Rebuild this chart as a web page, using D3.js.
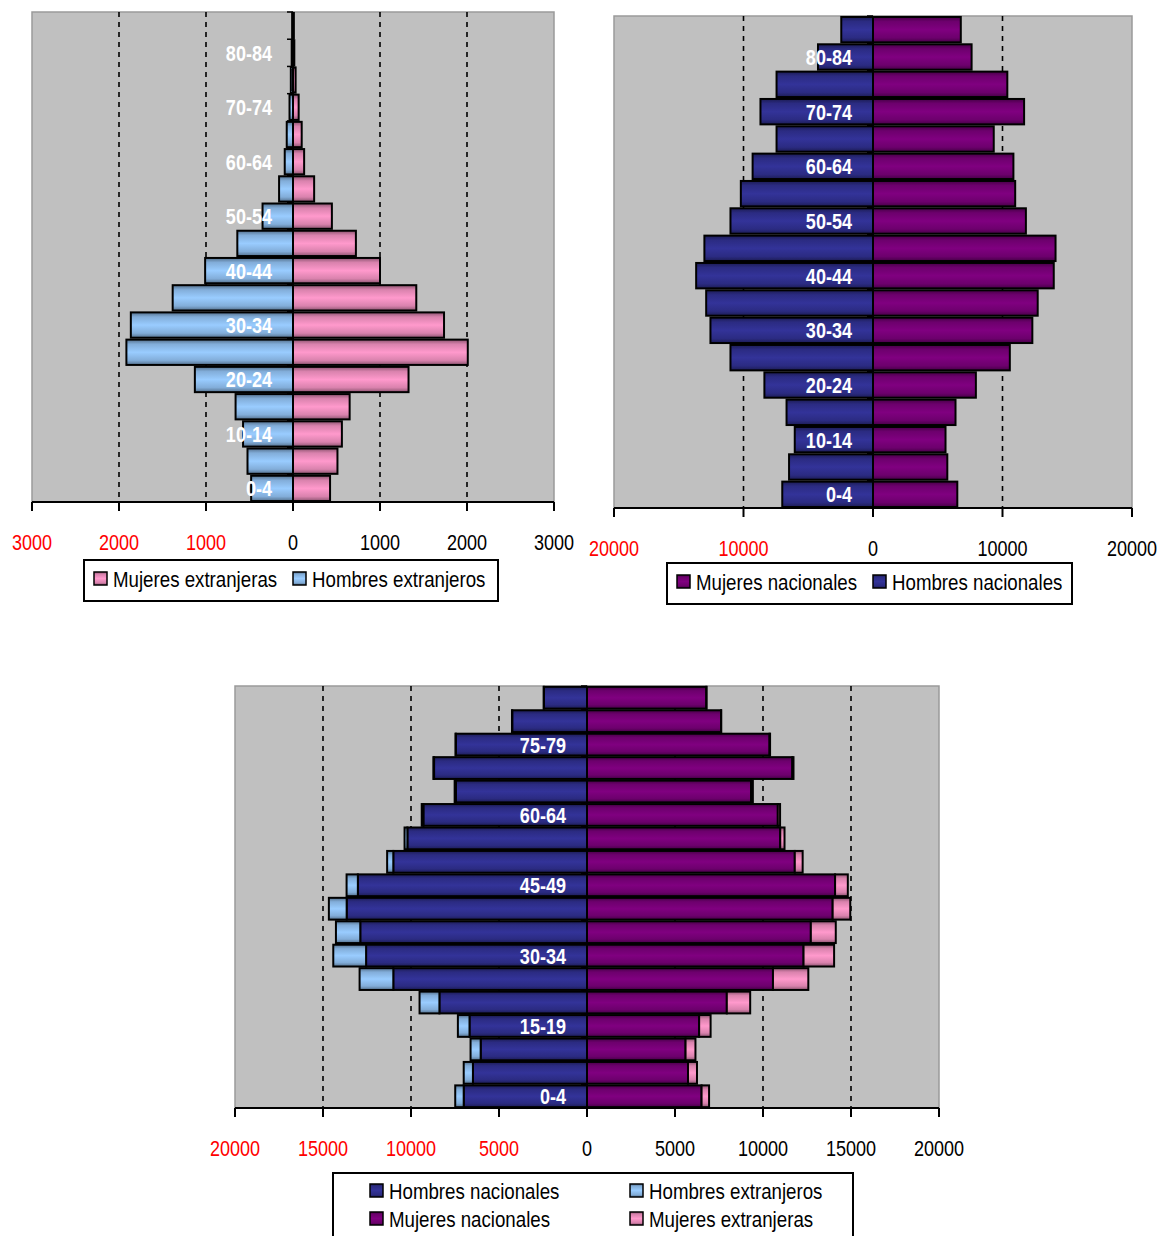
<!DOCTYPE html>
<html>
<head>
<meta charset="utf-8">
<script src="https://cdn.jsdelivr.net/npm/d3@7"></script>
<style>
  html, body { margin: 0; padding: 0; background: #fff; }
  svg { display: block; }
  text { font-family: "Liberation Sans", Arial, sans-serif; }
</style>
</head>
<body>
<svg id="chart" width="1159" height="1236"></svg>
<script>
// ---------------- DATA ----------------
const ages = ["0-4","5-9","10-14","15-19","20-24","25-29","30-34","35-39","40-44","45-49","50-54","55-59","60-64","65-69","70-74","75-79","80-84","85+"];
const hombresExtranjeros = [481,523,574,660,1128,1915,1864,1383,1010,640,350,160,95,72,40,25,15,10];
const mujeresExtranjeras = [426,511,562,651,1328,2009,1736,1417,1000,723,447,243,128,100,65,30,15,10];
const hombresNacionales = [7006,6482,6042,6676,8386,11006,12552,12882,13656,13020,11006,10206,9296,7448,8690,7448,4248,2450];
const mujeresNacionales = [6510,5738,5600,6372,7944,10566,12304,12718,13958,14096,11806,10980,10842,9324,11668,10372,7614,6780];

const ticksExtranjeros = [-3000,-2000,-1000,0,1000,2000,3000];
const ticksNacionales = [-20000,-10000,0,10000,20000];
const ticksTotal = [-20000,-15000,-10000,-5000,0,5000,10000,15000,20000];

const legendExtranjeros = ["Mujeres extranjeras","Hombres extranjeros"];
const legendNacionales = ["Mujeres nacionales","Hombres nacionales"];
const legendTotal = ["Hombres nacionales","Hombres extranjeros","Mujeres nacionales","Mujeres extranjeras"];

const colors = {
  "Hombres extranjeros": "#99CCFF",
  "Mujeres extranjeras": "#FF99CC",
  "Hombres nacionales": "#333399",
  "Mujeres nacionales": "#800080"
};

// ---------------- SETUP ----------------
const svg = d3.select("#chart");
const defs = svg.append("defs");
const gradId = {};
Object.entries(colors).forEach(([name, c], i) => {
  const id = "grad" + i;
  gradId[name] = id;
  const dark = d3.interpolateRgb(c, "#000")(0.45);
  const mid = d3.interpolateRgb(c, "#000")(0.15);
  const g = defs.append("linearGradient").attr("id", id)
    .attr("x1", 0).attr("y1", 0).attr("x2", 0).attr("y2", 1);
  g.append("stop").attr("offset", "0%").attr("stop-color", dark);
  g.append("stop").attr("offset", "18%").attr("stop-color", mid);
  g.append("stop").attr("offset", "50%").attr("stop-color", c);
  g.append("stop").attr("offset", "82%").attr("stop-color", mid);
  g.append("stop").attr("offset", "100%").attr("stop-color", dark);
});
const fillOf = name => `url(#${gradId[name]})`;

// narrow text: horizontally compressed Liberation Sans
function ntext(sel, x, y, str, opts) {
  const t = sel.append("text")
    .attr("transform", `translate(${x},${y}) scale(${opts.sx || 0.82},1)`)
    .attr("x", 0).attr("y", 0).attr("dy", "0.36em")
    .attr("text-anchor", opts.anchor || "start")
    .attr("font-size", opts.size || 22)
    .attr("fill", opts.fill || "#000")
    .text(str);
  if (opts.bold) t.attr("font-weight", "bold");
  return t;
}

function pyramid(cfg) {
  const g = svg.append("g");
  const x = d3.scaleLinear().domain(cfg.domain).range([cfg.x0, cfg.x1]);
  const y = d3.scaleBand().domain(ages).range([cfg.y1, cfg.y0])
    .paddingInner(0.07).paddingOuter(0.035);
  const yb = d3.scaleBand().domain(ages).range([cfg.y1, cfg.y0]);

  // plot area
  g.append("rect").attr("x", cfg.x0).attr("y", cfg.y0)
    .attr("width", cfg.x1 - cfg.x0).attr("height", cfg.y1 - cfg.y0)
    .attr("fill", "#C0C0C0").attr("stroke", "#9a9a9a").attr("stroke-width", 1.5);

  // dashed gridlines
  g.selectAll(".grid").data(cfg.ticks.filter(t => t !== 0 && t !== cfg.domain[0] && t !== cfg.domain[1]))
    .enter().append("line")
    .attr("x1", d => x(d)).attr("x2", d => x(d))
    .attr("y1", cfg.y0).attr("y2", cfg.y1)
    .attr("stroke", "#000").attr("stroke-width", 1.6).attr("stroke-dasharray", "5,5");

  // category axis at zero
  const x0 = x(0);
  g.append("line").attr("x1", x0).attr("x2", x0).attr("y1", cfg.y0).attr("y2", cfg.y1)
    .attr("stroke", "#000").attr("stroke-width", 2);
  g.selectAll(".ytick").data(ages).enter().append("line")
    .attr("x1", x0 - 6).attr("x2", x0)
    .attr("y1", d => yb(d)).attr("y2", d => yb(d))
    .attr("stroke", "#000").attr("stroke-width", 1.5);

  // bars
  cfg.series.forEach(s => {
    g.selectAll(null).data(ages).enter().append("rect")
      .attr("x", (d, i) => Math.min(x(s.from[i]), x(s.to[i])))
      .attr("width", (d, i) => Math.abs(x(s.to[i]) - x(s.from[i])))
      .attr("y", d => y(d)).attr("height", y.bandwidth())
      .attr("fill", fillOf(s.name)).attr("stroke", "#000").attr("stroke-width", 2);
  });

  // category labels
  ages.forEach((d, i) => {
    if (i % cfg.labelEvery !== 0) return;
    ntext(g, x0 - 21, yb(d) + yb.bandwidth() / 2, d,
      { anchor: "end", size: 22, bold: true, fill: "#fff", sx: 0.82 });
  });

  // bottom axis
  g.append("line").attr("x1", cfg.x0).attr("x2", cfg.x1).attr("y1", cfg.y1).attr("y2", cfg.y1)
    .attr("stroke", "#000").attr("stroke-width", 2);
  g.selectAll(".xtick").data(cfg.ticks).enter().append("line")
    .attr("x1", d => x(d)).attr("x2", d => x(d))
    .attr("y1", cfg.y1).attr("y2", cfg.y1 + 9)
    .attr("stroke", "#000").attr("stroke-width", 2);
  cfg.ticks.forEach(d => {
    ntext(g, x(d), cfg.y1 + 40, String(Math.abs(d)),
      { anchor: "middle", size: 22, fill: d < 0 ? "#FF0000" : "#000", sx: 0.82 });
  });
}

function legend(cfg) {
  const g = svg.append("g");
  g.append("rect").attr("x", cfg.x).attr("y", cfg.y).attr("width", cfg.w).attr("height", cfg.h)
    .attr("fill", "#fff").attr("stroke", "#000").attr("stroke-width", 2);
  cfg.items.forEach((name, i) => {
    const p = cfg.pos[i];
    g.append("rect").attr("x", p[0]).attr("y", p[1] - 7).attr("width", 13).attr("height", 13)
      .attr("fill", fillOf(name)).attr("stroke", "#000").attr("stroke-width", 1.5);
    ntext(g, p[0] + 19, p[1], name, { size: 22, sx: 0.85 });
  });
}

// ---------------- CHART 1: extranjeros ----------------
pyramid({
  x0: 32, x1: 554, y0: 12, y1: 502,
  domain: [-3000, 3000], ticks: ticksExtranjeros, labelEvery: 2,
  series: [
    { name: "Hombres extranjeros", from: ages.map(() => 0), to: hombresExtranjeros.map(v => -v) },
    { name: "Mujeres extranjeras", from: ages.map(() => 0), to: mujeresExtranjeras }
  ]
});
legend({ x: 84, y: 560, w: 414, h: 41, items: legendExtranjeros, pos: [[94, 579], [293, 579]] });

// ---------------- CHART 2: nacionales ----------------
pyramid({
  x0: 614, x1: 1132, y0: 16, y1: 508,
  domain: [-20000, 20000], ticks: ticksNacionales, labelEvery: 2,
  series: [
    { name: "Hombres nacionales", from: ages.map(() => 0), to: hombresNacionales.map(v => -v) },
    { name: "Mujeres nacionales", from: ages.map(() => 0), to: mujeresNacionales }
  ]
});
legend({ x: 667, y: 563, w: 405, h: 41, items: legendNacionales, pos: [[677, 582], [873, 582]] });

// ---------------- CHART 3: total ----------------
pyramid({
  x0: 235, x1: 939, y0: 686, y1: 1108,
  domain: [-20000, 20000], ticks: ticksTotal, labelEvery: 3,
  series: [
    { name: "Hombres nacionales", from: ages.map(() => 0), to: hombresNacionales.map(v => -v) },
    { name: "Hombres extranjeros", from: hombresNacionales.map(v => -v), to: hombresNacionales.map((v, i) => -(v + hombresExtranjeros[i])) },
    { name: "Mujeres nacionales", from: ages.map(() => 0), to: mujeresNacionales },
    { name: "Mujeres extranjeras", from: mujeresNacionales, to: mujeresNacionales.map((v, i) => v + mujeresExtranjeras[i]) }
  ]
});
legend({ x: 333, y: 1173, w: 520, h: 80, items: legendTotal,
  pos: [[370, 1191], [630, 1191], [370, 1219], [630, 1219]] });
</script>
</body>
</html>
